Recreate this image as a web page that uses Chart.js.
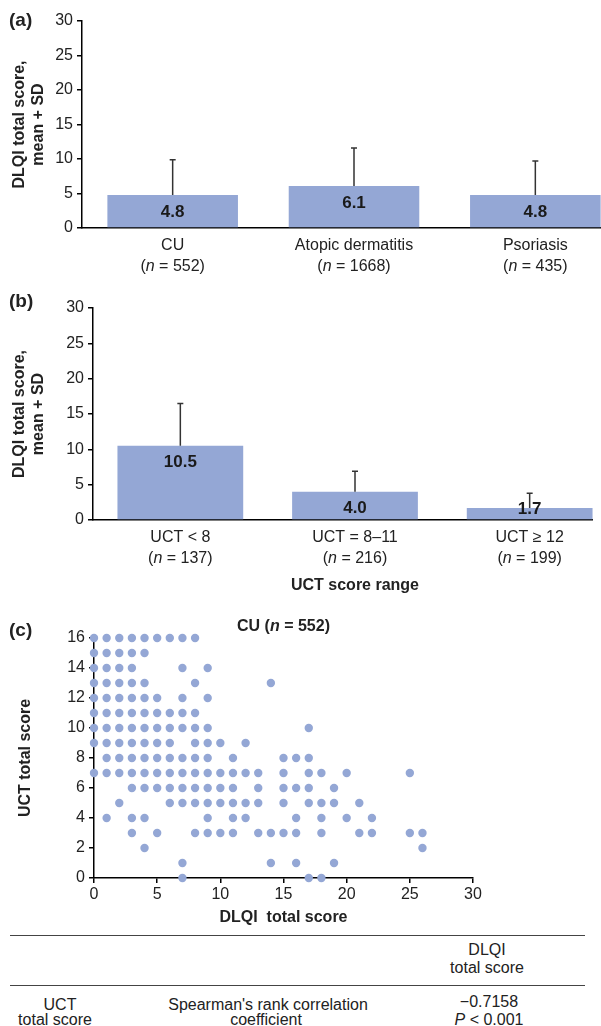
<!DOCTYPE html>
<html>
<head>
<meta charset="utf-8">
<script src="https://cdn.jsdelivr.net/npm/chart.js@4.4.1/dist/chart.umd.min.js"></script>
<style>
  body { margin: 0; width: 601px; height: 1026px; overflow: hidden; background: #fff;
         position: relative; font-family: "Liberation Sans", Arial, sans-serif; color: #222; }
  .panel { position: absolute; left: 0; overflow: hidden; }
  .tag { position: absolute; left: 9px; font: bold 19px "Liberation Sans", Arial, sans-serif;
         transform: translateY(-50%); }
  .rule { position: absolute; left: 10px; width: 575px; border-top: 1.5px solid #444; }
  .cell { position: absolute; font-size: 16px; white-space: nowrap; transform: translate(-50%, -50%); }
</style>
</head>
<body>

<div class="panel" style="top:0; width:601px; height:290px;">
  <canvas id="chartA" width="630" height="290"></canvas>
</div>
<div class="panel" style="top:290px; width:593px; height:310px;">
  <canvas id="chartB" width="620" height="310"></canvas>
</div>
<div class="panel" style="top:600px; width:601px; height:330px;">
  <canvas id="chartC" width="601" height="330"></canvas>
</div>

<div class="tag" style="top:20px">(a)</div>
<div class="tag" style="top:301px">(b)</div>
<div class="tag" style="top:630px">(c)</div>

<!-- Spearman table -->
<div class="rule" style="top:935px"></div>
<div class="cell" style="left:487px; top:950px">DLQI</div>
<div class="cell" style="left:487px; top:968px">total score</div>
<div class="rule" style="top:985px"></div>
<div class="cell" style="left:60px; top:1005px">UCT</div>
<div class="cell" style="left:55px; top:1020px">total score</div>
<div class="cell" style="left:268px; top:1005px">Spearman's rank correlation</div>
<div class="cell" style="left:266px; top:1020px">coefficient</div>
<div class="cell" style="left:489px; top:1002px">&minus;0.7158</div>
<div class="cell" style="left:489px; top:1020px"><i>P</i> &lt; 0.001</div>

<script>
// ---- data ----
const skinLabels = ['CU', 'Atopic dermatitis', 'Psoriasis'];
const skinN = [552, 1668, 435];
const skinMean = [4.8, 6.1, 4.8];
const skinSd = [5.1, 5.5, 4.9];

const uctLabels = ['UCT < 8', 'UCT = 8–11', 'UCT ≥ 12'];
const uctN = [137, 216, 199];
const uctMean = [10.5, 4.0, 1.7];
const uctSd = [6.0, 2.9, 2.1];

const cuN = 552;

// scatter (c): DLQI scores found at each UCT score
const uctLevels = [16, 15, 14, 13, 12, 11, 10, 9, 8, 7, 6, 5, 4, 3, 2, 1, 0];
const dlqiAtLevel = [
  [0, 1, 2, 3, 4, 5, 6, 7, 8],
  [0, 1, 2, 3, 4],
  [0, 1, 2, 3, 7, 9],
  [0, 1, 2, 3, 4, 8, 14],
  [0, 1, 2, 3, 4, 5, 7, 9],
  [0, 1, 2, 3, 4, 5, 6, 7, 8],
  [0, 1, 2, 3, 4, 5, 6, 7, 8, 9, 17],
  [0, 1, 2, 3, 4, 5, 6, 8, 9, 10, 12],
  [1, 2, 3, 4, 5, 6, 7, 8, 9, 11, 15, 16, 17],
  [0, 1, 2, 3, 4, 5, 6, 7, 8, 9, 10, 11, 12, 13, 15, 17, 18, 20, 25],
  [3, 4, 5, 6, 7, 8, 9, 10, 11, 13, 15, 16, 17, 19],
  [2, 6, 7, 8, 9, 10, 11, 12, 13, 15, 17, 18, 19, 21],
  [1, 3, 4, 9, 11, 12, 16, 18, 20, 22],
  [3, 5, 8, 9, 10, 11, 13, 14, 15, 16, 18, 21, 22, 25, 26],
  [4, 26],
  [7, 14, 16, 19],
  [7, 17, 18]
];

const FONT = '"Liberation Sans", Arial, sans-serif';
const BLUE = '#94a7d5';
Chart.defaults.font.family = FONT;
Chart.defaults.color = '#222';
Chart.defaults.animation = false;

// draws pre + italic n + post, centred on x
function drawNText(ctx, x, y, pre, post, weight, size) {
  const normal = weight + ' ' + size + 'px ' + FONT;
  const ital = 'italic ' + weight + ' ' + size + 'px ' + FONT;
  ctx.font = normal; const w1 = ctx.measureText(pre).width;
  ctx.font = ital;   const w2 = ctx.measureText('n').width;
  ctx.font = normal; const w3 = ctx.measureText(post).width;
  let cx = x - (w1 + w2 + w3) / 2;
  ctx.textAlign = 'left';
  ctx.font = normal; ctx.fillText(pre, cx, y); cx += w1;
  ctx.font = ital;   ctx.fillText('n', cx, y); cx += w2;
  ctx.font = normal; ctx.fillText(post, cx, y);
}

// SD whiskers, value labels and two-line category labels for the bar panels
const barExtras = {
  id: 'barExtras',
  afterDatasetsDraw(chart, args, opts) {
    const ctx = chart.ctx;
    const yScale = chart.scales.y;
    const xScale = chart.scales.x;
    const bars = chart.getDatasetMeta(0).data;
    ctx.save();
    bars.forEach((bar, i) => {
      ctx.fillStyle = '#1a1a1a';
      ctx.font = 'bold 17px ' + FONT;
      ctx.textAlign = 'center';
      ctx.textBaseline = 'middle';
      ctx.fillText(opts.means[i].toFixed(1), bar.x, Math.min(bar.y + 17, bar.base - 10));

      const capY = yScale.getPixelForValue(opts.means[i] + opts.sds[i]);
      ctx.strokeStyle = '#333';
      ctx.lineWidth = 1.5;
      ctx.beginPath();
      ctx.moveTo(bar.x, bar.y);
      ctx.lineTo(bar.x, capY);
      ctx.moveTo(bar.x - 3, capY);
      ctx.lineTo(bar.x + 3, capY);
      ctx.stroke();
    });
    ctx.fillStyle = '#222';
    ctx.textBaseline = 'middle';
    opts.labels.forEach((lab, i) => {
      const x = xScale.getPixelForTick(i);
      ctx.font = '16px ' + FONT;
      ctx.textAlign = 'center';
      ctx.fillText(lab, x, xScale.top + 18);
      drawNText(ctx, x, xScale.top + 39, '(', ' = ' + opts.ns[i] + ')', 'normal', 16);
    });
    ctx.restore();
  }
};

function yAxisBars() {
  return {
    min: 0, max: 30,
    ticks: { stepSize: 5, font: { size: 16 }, padding: 4 },
    grid: { drawOnChartArea: false, tickLength: 5, color: '#000', lineWidth: 1.5 },
    border: { color: '#000', width: 1.5 },
    title: {
      display: true, text: ['DLQI total score,', 'mean + SD'],
      font: { size: 16, weight: 'bold' }, padding: { top: 10, bottom: 0 }
    }
  };
}

function barChart(id, labels, means, sds, ns, yWidth, xHeight, pad, xTitle) {
  const y = yAxisBars();
  y.afterFit = s => { s.width = yWidth; };
  const x = {
    ticks: { display: false },
    grid: { display: false },
    border: { color: '#000', width: 1.5 },
    afterFit: s => { s.height = xHeight; }
  };
  if (xTitle) {
    x.title = { display: true, text: xTitle, font: { size: 16, weight: 'bold' }, padding: { top: 0, bottom: 5 } };
  }
  return new Chart(document.getElementById(id), {
    type: 'bar',
    data: {
      labels: labels,
      datasets: [{ data: means, backgroundColor: BLUE, barPercentage: 0.9, categoryPercentage: 0.8 }]
    },
    options: {
      responsive: false,
      layout: { padding: pad },
      plugins: {
        legend: { display: false },
        tooltip: { enabled: false },
        barExtras: { means: means, sds: sds, labels: labels, ns: ns }
      },
      scales: { x: x, y: y }
    },
    plugins: [barExtras]
  });
}

barChart('chartA', skinLabels, skinMean, skinSd, skinN, 82, 62, { top: 21, right: 4, left: 0, bottom: 0 });
barChart('chartB', uctLabels, uctMean, uctSd, uctN, 93, 80, { top: 18, right: 3, left: 0, bottom: 0 }, 'UCT score range');

// ---- (c) scatter ----
const scatterPoints = [];
uctLevels.forEach((u, i) => {
  dlqiAtLevel[i].forEach(d => scatterPoints.push({ x: d, y: u }));
});

const scatterTitle = {
  id: 'scatterTitle',
  afterDraw(chart) {
    const ctx = chart.ctx;
    const a = chart.chartArea;
    ctx.save();
    ctx.fillStyle = '#222';
    ctx.textBaseline = 'middle';
    drawNText(ctx, (a.left + a.right) / 2, a.top - 11, 'CU (', ' = ' + cuN + ')', 'bold', 16);
    ctx.restore();
  }
};

new Chart(document.getElementById('chartC'), {
  type: 'scatter',
  data: {
    datasets: [{
      data: scatterPoints, backgroundColor: BLUE, borderWidth: 0,
      pointRadius: 4.2, clip: false
    }]
  },
  options: {
    responsive: false,
    layout: { padding: { top: 38, right: 128, left: 0, bottom: 0 } },
    plugins: { legend: { display: false }, tooltip: { enabled: false } },
    scales: {
      x: {
        type: 'linear', min: 0, max: 30,
        ticks: { stepSize: 5, font: { size: 16 }, padding: 2 },
        grid: { drawOnChartArea: false, tickLength: 5, color: '#000', lineWidth: 1.5 },
        border: { color: '#000', width: 1.5 },
        title: { display: true, text: 'DLQI  total score', font: { size: 16, weight: 'bold' }, padding: { top: 0, bottom: 3 } },
        afterFit: s => { s.height = 52; }
      },
      y: {
        type: 'linear', min: 0, max: 16,
        ticks: { stepSize: 2, font: { size: 16 }, padding: 4 },
        grid: { drawOnChartArea: false, tickLength: 5, color: '#000', lineWidth: 1.5 },
        border: { color: '#000', width: 1.5 },
        title: { display: true, text: 'UCT total score', font: { size: 16, weight: 'bold' }, padding: { top: 16, bottom: 0 } },
        afterFit: s => { s.width = 94; }
      }
    }
  },
  plugins: [scatterTitle]
});
</script>
</body>
</html>
